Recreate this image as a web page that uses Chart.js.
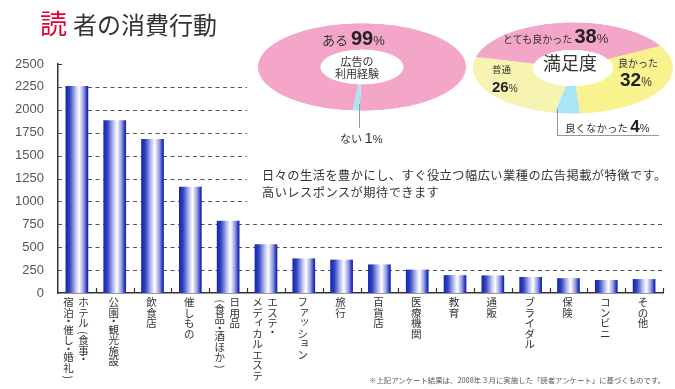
<!DOCTYPE html>
<html>
<head>
<meta charset="utf-8">
<script src="https://cdn.jsdelivr.net/npm/chart.js@4"></script>
<style>
    body { margin: 0; background: #fff; }
    #page { position: relative; width: 675px; height: 389px; overflow: hidden; font-family: "Noto Sans CJK JP", sans-serif; color: #333; }
    .abs { position: absolute; white-space: nowrap; line-height: 1; }
    .num { font-family: "Liberation Sans", Arial, sans-serif; font-weight: bold; color: #222; }
    .pct { font-family: "Liberation Sans", Arial, sans-serif; }
    .lead { position: absolute; border-color: #999; border-style: solid; border-width: 0; }
</style>
</head>
<body>
<div id="page">
    <canvas id="bars" width="675" height="389" style="position:absolute;left:0;top:0"></canvas>
    <canvas id="usage" width="208" height="208" style="position:absolute;left:258px;top:-37px;transform:scaleY(0.42)"></canvas>
    <canvas id="satisfaction" width="200" height="200" style="position:absolute;left:473px;top:-32px;transform:scaleY(0.455)"></canvas>

    <div class="abs" style="left:40px;top:9px;font-size:27px;color:#e3002c;">読</div>
    <div class="abs" style="left:73px;top:12px;font-size:24px;color:#333;">者の消費行動</div>

    <!-- 広告の利用経験 -->
    <div class="abs" style="left:322px;top:28px;font-size:13px;">ある <span class="num" style="font-size:20px">99</span><span class="pct" style="font-size:13px">%</span></div>
    <div class="abs" style="left:333px;top:55px;font-size:11px;line-height:12px;text-align:center;width:48px;">広告の<br>利用経験</div>
    <div class="lead" style="left:359px;top:104px;height:24px;border-left-width:1px;"></div>
    <div class="abs" style="left:340px;top:130px;font-size:11px;">ない <span class="num" style="font-size:15px;font-weight:normal;color:#333">1</span><span class="pct" style="font-size:11px">%</span></div>

    <!-- 満足度 -->
    <div class="abs" style="left:503px;top:26px;font-size:10px;">とても良かった <span class="num" style="font-size:20px">38</span><span class="pct" style="font-size:13px">%</span></div>
    <div class="abs" style="left:543px;top:53px;font-size:18px;">満足度</div>
    <div class="abs" style="left:618px;top:58px;font-size:10px;">良かった</div>
    <div class="abs" style="left:620px;top:70px;"><span class="num" style="font-size:19px">32</span><span class="pct" style="font-size:12px">%</span></div>
    <div class="abs" style="left:492px;top:65px;font-size:9.5px;">普通</div>
    <div class="abs" style="left:492px;top:77px;"><span class="num" style="font-size:15px">26</span><span class="pct" style="font-size:10px">%</span></div>
    <div class="lead" style="left:557px;top:108px;width:101px;height:27px;border-left-width:1px;border-bottom-width:1px;"></div>
    <div class="abs" style="left:565px;top:118px;font-size:10.5px;">良くなかった <span class="num" style="font-size:17px">4</span><span class="pct" style="font-size:11px">%</span></div>

    <div class="abs" style="left:262px;top:167px;font-size:12.2px;line-height:17px;letter-spacing:0.5px;">日々の生活を豊かにし、すぐ役立つ幅広い業種の広告掲載が特徴です。<br>高いレスポンスが期待できます</div>

    <div class="abs" style="left:369px;top:376px;font-size:7.4px;color:#555;">※上記アンケート結果は、2008年３月に実施した「読者アンケート」に基づくものです。</div>
</div>

<script>
// bar chart: each category is a list of vertical text columns, right to left
const categories = [
    ["ホテル(食事・", "宿泊・催し・婚礼)"],
    ["公園・観光施設"],
    ["飲食店"],
    ["催しもの"],
    ["日用品", "(食品・酒ほか)"],
    ["エステ・", "メディカルエステ"],
    ["ファッション"],
    ["旅行"],
    ["百貨店"],
    ["医療機関"],
    ["教育"],
    ["通販"],
    ["ブライダル"],
    ["保険"],
    ["コンビニ"],
    ["その他"],
];
const responses = [2260, 1885, 1680, 1160, 790, 531, 378, 364, 312, 255, 195, 192, 175, 162, 142, 152];
const yTicks = [0, 250, 500, 750, 1000, 1250, 1500, 1750, 2000, 2250, 2500];

// doughnuts (slices listed clockwise)
const usageLabels = ["ある", "ない"];
const usageValues = [99, 1];
const satisfactionLabels = ["とても良かった", "良かった", "良くなかった", "普通"];
const satisfactionValues = [38, 32, 4, 26];

const BAR_PCT = 0.6;

function barFill(context) {
    const chart = context.chart;
    const x = chart.scales.x;
    if (!x || !chart.chartArea) return "#2a3ac0";
    const c = x.getPixelForValue(context.dataIndex);
    const half = (x.width / categories.length) * BAR_PCT / 2;
    const g = chart.ctx.createLinearGradient(c - half, 0, c + half, 0);
    g.addColorStop(0, "#1224ae");
    g.addColorStop(0.18, "#3042c2");
    g.addColorStop(0.45, "#c0c5f0");
    g.addColorStop(0.6, "#ffffff");
    g.addColorStop(0.8, "#949ddf");
    g.addColorStop(0.95, "#2030ba");
    g.addColorStop(1, "#1224ae");
    return g;
}

const gridPlugin = {
    id: "dashGrid",
    beforeDatasetsDraw(chart) {
        const { ctx, chartArea } = chart;
        const { x, y } = chart.scales;
        ctx.save();
        ctx.strokeStyle = "#555";
        ctx.lineWidth = 1;
        ctx.setLineDash([4, 3.5]);
        yTicks.forEach((v) => {
            if (v === 0 || v === y.max) return;
            const py = Math.round(y.getPixelForValue(v)) + 0.5;
            // upper lines stop before the text/doughnut block
            const end = v >= 1000 ? x.getPixelForValue(4.5) : chartArea.right;
            ctx.beginPath();
            ctx.moveTo(chartArea.left, py);
            ctx.lineTo(end, py);
            ctx.stroke();
        });
        ctx.restore();
    },
    afterDraw(chart) {
        const { ctx, chartArea } = chart;
        const { x, y } = chart.scales;
        ctx.save();
        ctx.strokeStyle = "#333";
        ctx.lineWidth = 1.2;
        ctx.beginPath();
        for (let i = 0; i < categories.length; i++) {
            const px = Math.round(x.getPixelForValue(i + 0.5)) + 0.5;
            ctx.moveTo(px, chartArea.bottom);
            ctx.lineTo(px, chartArea.bottom - 5);
        }
        const top = Math.round(y.getPixelForValue(y.max)) + 0.5;
        ctx.moveTo(chartArea.left, top);
        ctx.lineTo(chartArea.left + 4, top);
        ctx.stroke();
        ctx.restore();
    },
};

const SMALL_KANA = "ァィゥェォッャュョヮぁぃぅぇぉっゃゅょ";
const NARROW = "・()";

const verticalLabels = {
    id: "verticalLabels",
    afterDraw(chart) {
        const { ctx, chartArea } = chart;
        const x = chart.scales.x;
        ctx.save();
        ctx.fillStyle = "#333";
        ctx.font = '10.5px "Noto Sans CJK JP"';
        ctx.textAlign = "center";
        ctx.textBaseline = "middle";
        categories.forEach((cols, i) => {
            const cx = x.getPixelForValue(i) - 1;
            cols.forEach((col, k) => {
                const colX = cx + (cols.length - 1) * 7.5 - k * 15;
                let py = chartArea.bottom + 9;
                for (const ch of col) {
                    const step = NARROW.includes(ch) ? 6.5 : 10.5;
                    const cy = py + step / 2 - 5;
                    if (ch === "(" || ch === ")") {
                        // brackets turn a quarter in vertical text
                        ctx.save();
                        ctx.translate(colX, cy + 1);
                        ctx.rotate(Math.PI / 2);
                        ctx.fillText(ch, 0, 0);
                        ctx.restore();
                    } else {
                        let dx = 0, dy = 0;
                        if (SMALL_KANA.includes(ch)) { dx = 1.8; dy = -2.2; }
                        ctx.fillText(ch, colX + dx, cy + dy);
                    }
                    py += step;
                }
            });
        });
        ctx.restore();
    },
};

new Chart(document.getElementById("bars"), {
    type: "bar",
    data: {
        labels: categories.map((c) => c.join("")),
        datasets: [
            {
                data: responses,
                backgroundColor: barFill,
                borderWidth: 0,
                barPercentage: BAR_PCT,
                categoryPercentage: 1,
            },
        ],
    },
    options: {
        responsive: false,
        animation: false,
        layout: { padding: { top: 64, right: 12, left: 0, bottom: 0 } },
        plugins: { legend: { display: false }, tooltip: { enabled: false } },
        scales: {
            x: {
                grid: { display: false },
                ticks: { display: false },
                border: { color: "#333", width: 1.5 },
                afterFit: (s) => { s.height = 96; },
            },
            y: {
                min: 0,
                max: 2500,
                afterBuildTicks: (s) => { s.ticks = yTicks.map((v) => ({ value: v })); },
                ticks: {
                    font: { family: "Liberation Sans", size: 13 },
                    color: "#555",
                    padding: 6,
                    callback: (v) => String(v),
                },
                grid: { display: false },
                border: { color: "#333", width: 1.5 },
                afterFit: (s) => { s.width = 58; },
            },
        },
    },
    plugins: [gridPlugin, verticalLabels],
});

function ring(id, labels, values, colors, rotation) {
    return new Chart(document.getElementById(id), {
        type: "doughnut",
        data: {
            labels: labels,
            datasets: [{ data: values, backgroundColor: colors, borderWidth: 0 }],
        },
        options: {
            responsive: false,
            animation: false,
            cutout: "40%",
            rotation: rotation,
            layout: { padding: 0 },
            plugins: { legend: { display: false }, tooltip: { enabled: false } },
        },
    });
}

ring("usage", usageLabels, usageValues, ["#f3a6c8", "#a8e6f6"], -175);
ring("satisfaction", satisfactionLabels, satisfactionValues,
    ["#f3a6c8", "#f8f38e", "#a8e6f6", "#f6f4b0"], -76);
</script>
</body>
</html>
